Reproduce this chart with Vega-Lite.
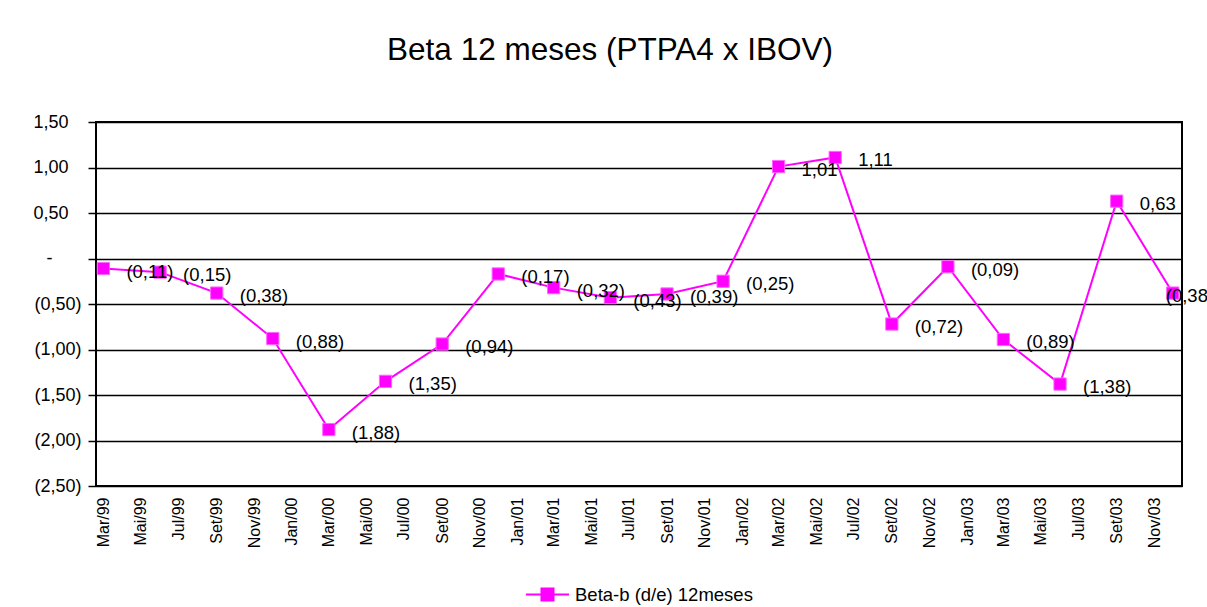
{
  "$schema": "https://vega.github.io/schema/vega-lite/v6.json",
  "width": 1086,
  "height": 364,
  "autosize": {"type": "none"},
  "padding": {"left": 96, "top": 122, "right": 25, "bottom": 121},
  "background": "white",
  "config": {
    "font": "Liberation Sans",
    "view": {"stroke": "black", "strokeWidth": 2},
    "axis": {"labelColor": "black", "labelFont": "Liberation Sans"},
    "legend": {"labelFont": "Liberation Sans", "layout": {"bottom": {"anchor": "middle"}}}
  },
  "title": {
    "text": "Beta 12 meses (PTPA4 x IBOV)",
    "font": "Liberation Sans",
    "fontSize": 31.5,
    "fontWeight": "normal",
    "color": "black",
    "anchor": "middle",
    "dx": -29,
    "baseline": "alphabetic",
    "offset": 22
  },
  "data": {
    "values": [
      {"date": "1999-03-01", "beta": -0.11},
      {"date": "1999-06-01", "beta": -0.15},
      {"date": "1999-09-01", "beta": -0.38},
      {"date": "1999-12-01", "beta": -0.88},
      {"date": "2000-03-01", "beta": -1.88},
      {"date": "2000-06-01", "beta": -1.35},
      {"date": "2000-09-01", "beta": -0.94},
      {"date": "2000-12-01", "beta": -0.17},
      {"date": "2001-03-01", "beta": -0.32},
      {"date": "2001-06-01", "beta": -0.43},
      {"date": "2001-09-01", "beta": -0.39},
      {"date": "2001-12-01", "beta": -0.25},
      {"date": "2002-03-01", "beta": 1.01},
      {"date": "2002-06-01", "beta": 1.11},
      {"date": "2002-09-01", "beta": -0.72},
      {"date": "2002-12-01", "beta": -0.09},
      {"date": "2003-03-01", "beta": -0.89},
      {"date": "2003-06-01", "beta": -1.38},
      {"date": "2003-09-01", "beta": 0.63},
      {"date": "2003-12-01", "beta": -0.38}
    ],
    "format": {"parse": {"date": "utc:'%Y-%m-%d'"}}
  },
  "encoding": {
    "x": {
      "field": "date",
      "type": "temporal",
      "scale": {
        "type": "utc",
        "domain": [
          {"year": 1999, "month": 2, "date": 17, "utc": true},
          {"year": 2003, "month": 12, "date": 16, "utc": true}
        ]
      },
      "axis": {
        "title": null,
        "grid": false,
        "domain": false,
        "ticks": false,
        "tickCount": {"interval": "month", "step": 2},
        "labelAngle": 270,
        "labelAlign": "right",
        "labelBaseline": "middle",
        "labelPadding": 11,
        "labelFontSize": 16,
        "labelOverlap": false,
        "labelFlush": false,
        "labelExpr": "['Jan','Fev','Mar','Abr','Mai','Jun','Jul','Ago','Set','Out','Nov','Dez'][utcmonth(datum.value)] + '/' + utcFormat(datum.value, '%y')"
      }
    },
    "y": {
      "field": "beta",
      "type": "quantitative",
      "scale": {"domain": [-2.5, 1.5], "nice": false, "zero": false},
      "axis": {
        "title": null,
        "values": [-2.5, -2, -1.5, -1, -0.5, 0, 0.5, 1, 1.5],
        "grid": true,
        "gridColor": "black",
        "gridWidth": 1.5,
        "gridOpacity": 1,
        "domain": false,
        "ticks": true,
        "tickColor": "black",
        "tickSize": 8,
        "tickWidth": 1.5,
        "labelFontSize": 18,
        "labelPadding": {
          "condition": {"test": "datum.value == 0", "value": 36},
          "value": 7
        },
        "labelExpr": "datum.value == 0 ? '-' : (datum.value < 0 ? '(' + replace(format(-datum.value, '.2f'), '.', ',') + ')' : replace(format(datum.value, '.2f'), '.', ',') + '\u2800')"
      }
    }
  },
  "transform": [
    {"calculate": "datum.beta == 0 ? '-' : (datum.beta < 0 ? '(' + replace(format(-datum.beta, '.2f'), '.', ',') + ')' : replace(format(datum.beta, '.2f'), '.', ','))", "as": "label"}
  ],
  "layer": [
    {
      "mark": {"type": "line", "color": "#FF00FF", "strokeWidth": 2}
    },
    {
      "mark": {"type": "point", "shape": "square", "filled": true, "size": 150, "opacity": 1, "stroke": "#FF66FF", "strokeWidth": 1},
      "encoding": {
        "color": {
          "datum": "Beta-b (d/e) 12meses",
          "scale": {"range": ["#FF00FF"]},
          "legend": {
            "title": null,
            "orient": "bottom",
            "offset": 24,
            "symbolType": "M-1,0L1,0M-0.28,-0.28L0.28,-0.28L0.28,0.28L-0.28,0.28Z",
            "symbolSize": 1849,
            "symbolStrokeWidth": 2,
            "symbolStrokeColor": "#FF00FF",
            "symbolFillColor": "#FF00FF",
            "labelFontSize": 18.5,
            "labelLimit": 0,
            "labelColor": "black",
            "labelOffset": 5,
            "encode": {
              "symbols": {"update": {"fill": {"value": "#FF00FF"}, "stroke": {"value": "#FF00FF"}, "strokeWidth": {"value": 2}}}
            }
          }
        }
      }
    },
    {
      "transform": [{"filter": "utcyear(datum.date) < 2003 || utcmonth(datum.date) < 11"}],
      "mark": {"type": "text", "align": "left", "baseline": "middle", "dx": 23, "dy": 3, "fontSize": 18.5, "color": "black"},
      "encoding": {
        "text": {"field": "label", "type": "nominal"}
      }
    },
    {
      "transform": [{"filter": "utcyear(datum.date) == 2003 && utcmonth(datum.date) == 11"}],
      "mark": {"type": "text", "align": "left", "baseline": "middle", "dx": -7, "dy": 3, "fontSize": 18.5, "color": "black"},
      "encoding": {
        "text": {"field": "label", "type": "nominal"}
      }
    }
  ]
}
